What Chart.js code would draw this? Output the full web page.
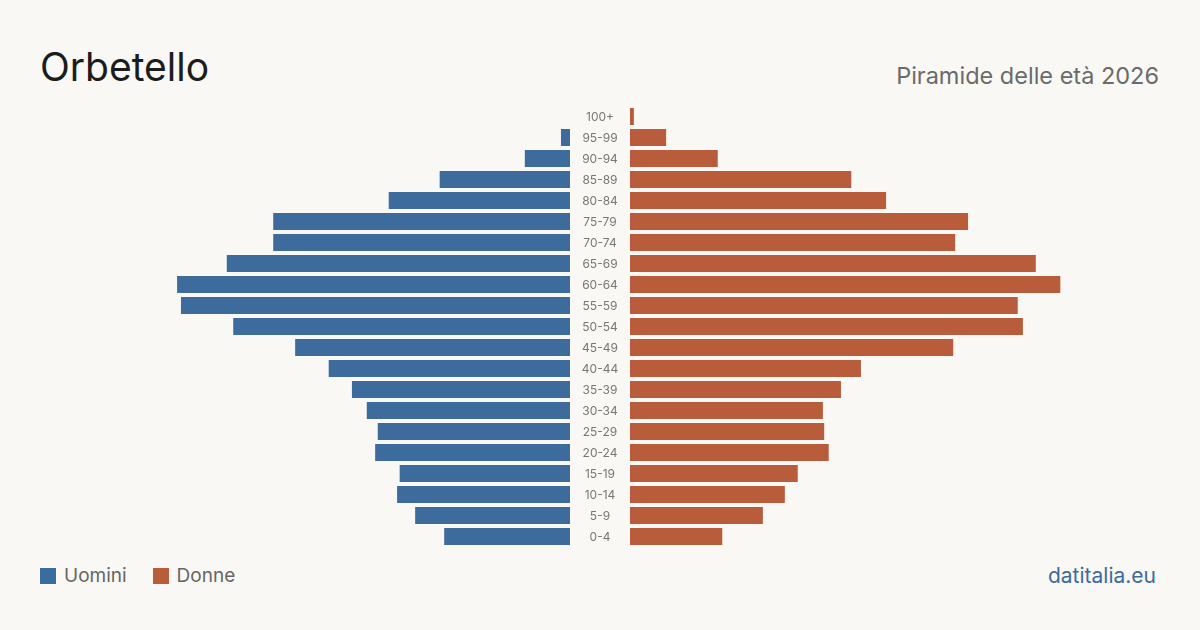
<!DOCTYPE html>
<html>
<head>
<meta charset="utf-8">
<script src="https://cdn.jsdelivr.net/npm/chart.js@4.4.1/dist/chart.umd.min.js"></script>
<style>
  html, body { margin: 0; padding: 0; }
  body { width: 1200px; height: 630px; background: #f9f8f4; position: relative; overflow: hidden; font-family: Inter, "Noto Sans", sans-serif; }
  #title { position: absolute; left: 40px; top: 47px; font-size: 39px; color: #1c1c1c; line-height: 1; }
  #subtitle { position: absolute; right: 41px; top: 64px; font-size: 23.5px; color: #6b6b6b; line-height: 1; }
  #left { position: absolute; left: 40px; top: 106px; width: 530px; height: 441px; }
  #right { position: absolute; left: 570px; top: 106px; width: 590px; height: 441px; }
  #legend { position: absolute; left: 40px; top: 566px; display: flex; font-size: 19px; color: #666; line-height: 20px; }
  .item { display: flex; align-items: center; margin-right: 26px; }
  .sw { width: 16px; height: 16px; margin-right: 8px; }
  #source { position: absolute; right: 44px; top: 564px; font-size: 21px; color: #3d6b9c; line-height: 24px; }
</style>
</head>
<body>
<div id="title">Orbetello</div>
<div id="subtitle">Piramide delle età 2026</div>
<div id="left"><canvas id="cl"></canvas></div>
<div id="right"><canvas id="cr"></canvas></div>
<div id="legend"></div>
<div id="source">datitalia.eu</div>
<script>
const ageGroups = ["100+","95-99","90-94","85-89","80-84","75-79","70-74","65-69","60-64","55-59","50-54","45-49","40-44","35-39","30-34","25-29","20-24","15-19","10-14","5-9","0-4"];
const men   = [0, 14, 70, 202, 281, 460, 460, 532, 609, 603, 522, 426, 374, 338, 315, 298, 302, 264, 268, 240, 195];
const women = [6, 56, 136, 343, 397, 524, 504, 629, 667, 601, 609, 501, 358, 327, 299, 301, 308, 260, 240, 206, 143];
const seriesLabels = ["Uomini", "Donne"];
const seriesColors = ["#3d6b9c", "#b85c3c"];
const axisMax = 821.5;

const common = {
  indexAxis: 'y',
  responsive: true,
  maintainAspectRatio: false,
  animation: false,
  plugins: { legend: { display: false }, tooltip: { enabled: false } },
  datasets: { bar: { barPercentage: 0.81, categoryPercentage: 1.0 } }
};

new Chart(document.getElementById('cl'), {
  type: 'bar',
  data: { labels: ageGroups, datasets: [{ label: seriesLabels[0], data: men, backgroundColor: seriesColors[0], borderWidth: 0 }] },
  options: Object.assign({}, common, {
    layout: { padding: 0 },
    scales: {
      x: { display: false, reverse: true, min: 0, max: axisMax },
      y: { display: false }
    }
  })
});

const centerLabels = {
  id: 'centerLabels',
  afterDraw(chart) {
    const ctx = chart.ctx, ys = chart.scales.y;
    ctx.save();
    ctx.fillStyle = '#777';
    ctx.font = '12px Inter';
    ctx.textAlign = 'center';
    ctx.textBaseline = 'middle';
    chart.data.labels.forEach((l, i) => {
      ctx.fillText(l, chart.chartArea.left - 30, ys.getPixelForValue(i) + 0.5);
    });
    ctx.restore();
  }
};

new Chart(document.getElementById('cr'), {
  type: 'bar',
  data: { labels: ageGroups, datasets: [{ label: seriesLabels[1], data: women, backgroundColor: seriesColors[1], borderWidth: 0 }] },
  options: Object.assign({}, common, {
    layout: { padding: { left: 60, right: 0, top: 0, bottom: 0 } },
    scales: {
      x: { display: false, min: 0, max: axisMax },
      y: { display: false }
    }
  }),
  plugins: [centerLabels]
});

const lg = document.getElementById('legend');
seriesLabels.forEach((l, i) => {
  const d = document.createElement('div'); d.className = 'item';
  const s = document.createElement('span'); s.className = 'sw'; s.style.background = seriesColors[i];
  const t = document.createElement('span'); t.textContent = l;
  d.appendChild(s); d.appendChild(t); lg.appendChild(d);
});
</script>
</body>
</html>
